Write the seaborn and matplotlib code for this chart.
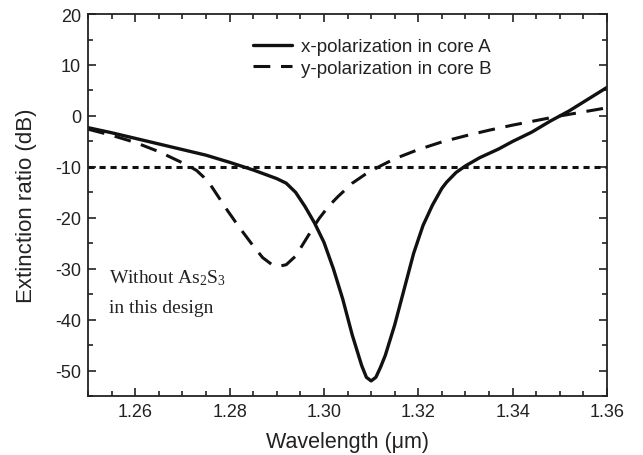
import matplotlib
matplotlib.use("Agg")
import matplotlib.pyplot as plt
import seaborn as sns
import pandas as pd
from matplotlib.ticker import MultipleLocator

# ---- data ----
wl_x = [1.250, 1.255, 1.260, 1.265, 1.270, 1.275, 1.280, 1.285, 1.290, 1.292,
        1.294, 1.296, 1.298, 1.300, 1.302, 1.304, 1.306, 1.308, 1.309, 1.310,
        1.311, 1.312, 1.313, 1.315, 1.317, 1.319, 1.321, 1.323, 1.325, 1.326,
        1.328, 1.330, 1.333, 1.337, 1.340, 1.344, 1.348, 1.352, 1.356, 1.360]
er_x = [-2.3, -3.3, -4.4, -5.5, -6.6, -7.7, -9.1, -10.6, -12.3, -13.2,
        -15.0, -17.8, -21.0, -24.8, -30.0, -36.0, -43.0, -49.0, -51.3, -52.0,
        -51.3, -49.3, -47.0, -41.0, -34.0, -27.0, -21.5, -17.5, -14.2, -13.0,
        -11.1, -9.8, -8.2, -6.5, -5.0, -3.2, -1.0, 1.0, 3.3, 5.6]

wl_y = [1.250, 1.255, 1.260, 1.265, 1.270, 1.2715, 1.273, 1.2745, 1.276, 1.2795,
        1.282, 1.285, 1.287, 1.289, 1.2905, 1.292, 1.294, 1.296, 1.298, 1.299,
        1.300, 1.301, 1.303, 1.306, 1.309, 1.312, 1.315, 1.320, 1.325, 1.330,
        1.335, 1.340, 1.345, 1.350, 1.355, 1.360]
er_y = [-2.6, -3.8, -5.2, -7.0, -9.2, -9.9, -10.7, -12.0, -13.6, -18.5,
        -21.8, -25.5, -27.8, -29.2, -29.5, -29.2, -27.5, -24.5, -21.5, -20.1,
        -18.9, -17.7, -15.8, -13.2, -11.3, -9.8, -8.4, -6.6, -5.1, -3.9,
        -2.8, -1.8, -0.9, 0.0, 0.8, 1.6]

wl_ref = [1.25, 1.36]
er_ref = [-10, -10]

labels = ["x-polarization in core A", "y-polarization in core B"]
x_ticks = [1.26, 1.28, 1.30, 1.32, 1.34, 1.36]
y_ticks = [-50, -40, -30, -20, -10, 0, 10, 20]

df_x = pd.DataFrame({"wl": wl_x, "er": er_x})
df_y = pd.DataFrame({"wl": wl_y, "er": er_y})
df_r = pd.DataFrame({"wl": wl_ref, "er": er_ref})

sns.set_theme(style="ticks")
plt.rcParams["font.family"] = ["Liberation Sans", "DejaVu Sans"]
plt.rcParams["axes.unicode_minus"] = False
plt.rcParams["mathtext.fontset"] = "custom"
plt.rcParams["mathtext.rm"] = "Liberation Serif"
plt.rcParams["mathtext.it"] = "Liberation Serif:italic"

ink = "#222222"
fig = plt.figure(figsize=(6.43, 4.56), dpi=100)
ax = fig.add_axes([0.137, 0.129, 0.807, 0.838])

sns.lineplot(data=df_x, x="wl", y="er", ax=ax, color="#111111", lw=2.4,
             label=labels[0], sort=False)
sns.lineplot(data=df_y, x="wl", y="er", ax=ax, color="#111111", lw=2.2,
             label=labels[1], sort=False)
ax.lines[1].set_dashes([5.5, 3.5])
sns.lineplot(data=df_r, x="wl", y="er", ax=ax, color="#111111", lw=2.2,
             sort=False)
ax.lines[2].set_dashes([2.0, 1.6])

ax.set_xlim(1.25, 1.36)
ax.set_ylim(-55, 20)
ax.set_xticks(x_ticks)
ax.set_xticklabels([f"{v:.2f}" for v in x_ticks])
ax.set_yticks(y_ticks)
ax.set_yticklabels([str(v) for v in y_ticks])
ax.xaxis.set_minor_locator(MultipleLocator(0.005))
ax.yaxis.set_minor_locator(MultipleLocator(5))
ax.tick_params(which="both", direction="in", top=True, right=True,
               labeltop=False, labelright=False, color=ink, width=1.2)
ax.tick_params(which="major", length=6, labelsize=13, pad=5,
               labelcolor=ink)
ax.tick_params(which="minor", length=3.5)
for s in ax.spines.values():
    s.set_linewidth(1.3)
    s.set_color(ink)

ax.set_xlabel("Wavelength (μm)", fontsize=15.5, color=ink, labelpad=8)
ax.set_ylabel("Extinction ratio (dB)", fontsize=16, color=ink)
ax.yaxis.set_label_coords(-0.098, 0.5)

leg = ax.legend(loc="upper left", bbox_to_anchor=(0.318, 0.937), frameon=False,
                fontsize=13.5, handlelength=2.1, handletextpad=0.45,
                labelspacing=0.25, borderaxespad=0.0, borderpad=0.0)
for t in leg.get_texts():
    t.set_color(ink)

ax.text(1.2545, -31.7, r"Without As$_\mathrm{2}$S$_\mathrm{3}$",
        family="Liberation Serif", fontsize=14, color=ink, va="center")
ax.text(1.2545, -37.6, "in this design", family="Liberation Serif",
        fontsize=14, color=ink, va="center")

fig.savefig("out.png", dpi=100)
